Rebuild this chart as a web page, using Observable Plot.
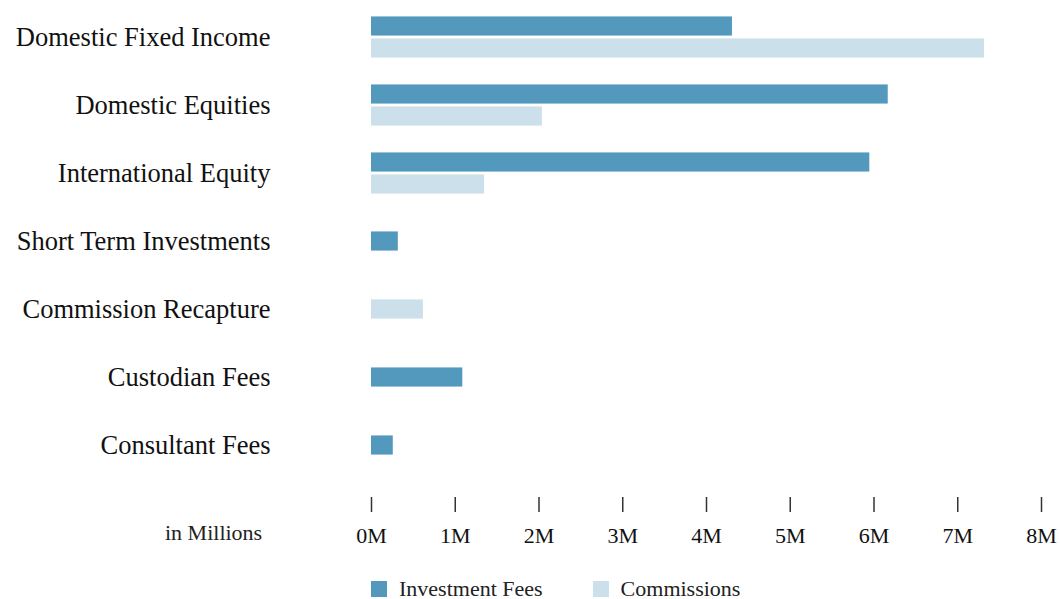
<!DOCTYPE html>
<html>
<head>
<meta charset="utf-8">
<script src="https://cdn.jsdelivr.net/npm/d3@7"></script>
<script src="https://cdn.jsdelivr.net/npm/@observablehq/plot@0.6"></script>
<style>
  html, body { margin: 0; padding: 0; background: #fff; }
  body { width: 1060px; height: 599px; position: relative; overflow: hidden; font-family: "Liberation Serif", serif; color: #111; }
  #chart { position: absolute; left: 0; top: 0; }
  #unit { position: absolute; left: 165px; top: 520px; font-size: 22px; color: #222; }
  #legend { position: absolute; left: 371px; top: 576px; display: flex; align-items: center; font-size: 22px; color: #222; }
  #legend .item { display: flex; align-items: center; margin-right: 50px; }
  #legend .sw { width: 16px; height: 16px; margin-right: 12px; }
</style>
</head>
<body>
<div id="chart"></div>
<div id="unit">in Millions</div>
<div id="legend"></div>
<script>
const categories = [
  "Domestic Fixed Income",
  "Domestic Equities",
  "International Equity",
  "Short Term Investments",
  "Commission Recapture",
  "Custodian Fees",
  "Consultant Fees"
];
const seriesNames = ["Investment Fees", "Commissions"];
const investmentFees = [4.31, 6.17, 5.95, 0.32, null, 1.09, 0.26];
const commissions = [7.32, 2.04, 1.35, null, 0.62, null, null];
const xTicks = [0, 1, 2, 3, 4, 5, 6, 7, 8];
const seriesColors = ["#5399be", "#cce0eb"];

const rows = [];
categories.forEach((c, i) => {
  const vals = [investmentFees[i], commissions[i]];
  const paired = vals.every(v => v != null);
  vals.forEach((v, j) => {
    if (v != null) rows.push({category: c, series: seriesNames[j], value: v, paired, idx: j});
  });
});

const width = 1060, height = 565;
const marginTop = 0, marginBottom = 83, marginLeft = 371, marginRight = 19;
const step = (height - marginTop - marginBottom) / categories.length;
const barH = 20;
const inset = (step - barH) / 2;

const common = {y: "category", x: "value", fill: "series", insetTop: inset, insetBottom: inset};

const chart = Plot.plot({
  width, height, marginTop, marginBottom, marginLeft, marginRight,
  style: {fontFamily: "Liberation Serif, serif", color: "#111", background: "#fff"},
  x: {domain: [0, 8]},
  y: {domain: categories, padding: 0},
  color: {domain: seriesNames, range: seriesColors},
  marks: [
    Plot.barX(rows.filter(d => d.paired && d.idx === 0), {...common, dy: -11}),
    Plot.barX(rows.filter(d => d.paired && d.idx === 1), {...common, dy: 11}),
    Plot.barX(rows.filter(d => !d.paired), common),
    Plot.axisY({tickSize: 0, tickPadding: 101, fontSize: 26.5, label: null, fill: "#111"}),
    Plot.axisX(xTicks, {tickSize: 15, dy: 15, tickPadding: 15, fontSize: 22, label: null,
      tickFormat: d => d + "M", stroke: "#333", strokeWidth: 1.5, fill: "#111"})
  ]
});
document.getElementById("chart").appendChild(chart);

const legend = document.getElementById("legend");
seriesNames.forEach((s, i) => {
  const item = document.createElement("div");
  item.className = "item";
  const sw = document.createElement("div");
  sw.className = "sw";
  sw.style.background = seriesColors[i];
  const t = document.createElement("span");
  t.textContent = s;
  item.appendChild(sw);
  item.appendChild(t);
  legend.appendChild(item);
});
</script>
</body>
</html>
